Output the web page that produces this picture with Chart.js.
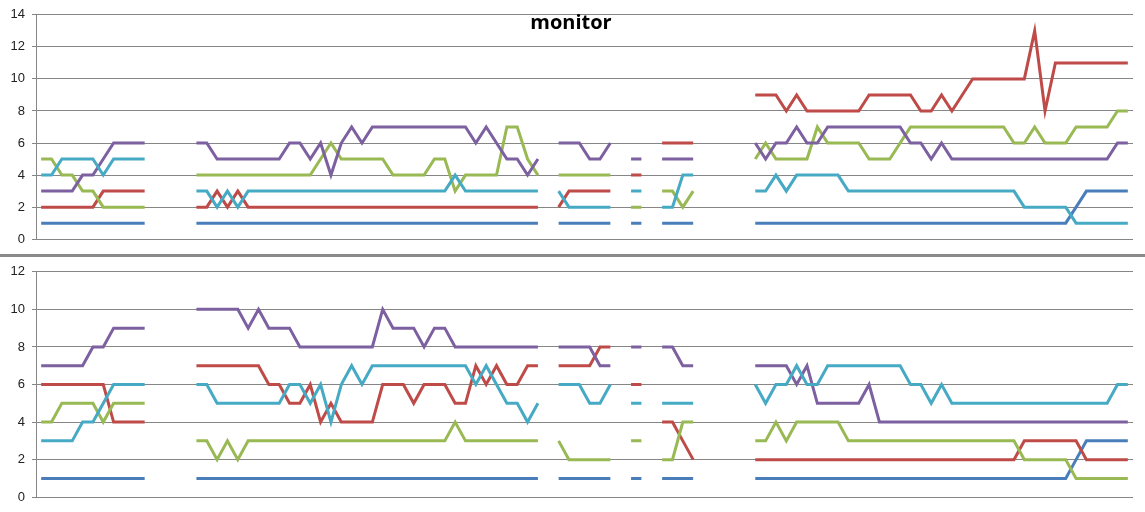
<!DOCTYPE html>
<html>
<head>
<meta charset="utf-8">
<title>monitor</title>
<script src="https://cdn.jsdelivr.net/npm/chart.js@4.4.0/dist/chart.umd.min.js"></script>
<style>
  html, body { margin: 0; padding: 0; background: #fff; }
  #wrap { position: relative; width: 1145px; height: 512px; overflow: hidden; }
  .panel { position: absolute; left: 0; width: 1145px; }
  #top-panel { top: 0; height: 254px; }
  #bottom-panel { top: 257px; height: 255px; }
  #divider { position: absolute; left: 0; top: 254px; width: 1145px; height: 3px; background: #8a8a8a; }
  #title { position: absolute; top: 10px; left: 0; width: 1142px; text-align: center;
           font: bold 20px "Open Sans"; line-height: 24px; color: #000; }
</style>
</head>
<body>
<div id="wrap">
  <div class="panel" id="top-panel"><canvas id="top-chart"></canvas></div>
  <div id="divider"></div>
  <div class="panel" id="bottom-panel"><canvas id="bottom-chart"></canvas></div>
  <div id="title">monitor</div>
</div>
<script>
// 106 categories, series have gaps between these runs
const N = 106;
const segStarts = [0, 15, 50, 57, 60, 69];

// Top panel (0..14)
const topBlue = [
  [1,1,1,1,1,1,1,1,1,1,1],
  [1,1,1,1,1,1,1,1,1,1, 1,1,1,1,1,1,1,1,1,1, 1,1,1,1,1,1,1,1,1,1, 1,1,1,1],
  [1,1,1,1,1,1],
  [1,1],
  [1,1,1,1],
  [1,1,1,1,1,1,1,1,1,1, 1,1,1,1,1,1,1,1,1,1, 1,1,1,1,1,1,1,1,1,1, 1, 2, 3,3,3,3,3]
];
const topRed = [
  [2,2,2,2,2,2,3,3,3,3,3],
  [2,2,3,2,3, 2,2,2,2,2,2,2,2,2,2, 2,2,2,2,2,2,2,2,2,2, 2,2,2,2,2,2,2,2,2],
  [2,3,3,3,3,3],
  [4,4],
  [6,6,6,6],
  [9,9,9,8,9, 8,8,8,8,8,8, 9,9,9,9,9, 8,8,9,8,9, 10,10,10,10,10,10, 13,8, 11,11,11,11,11,11,11,11]
];
const topGreen = [
  [5,5,4,4,3,3,2,2,2,2,2],
  [4,4,4,4,4,4,4,4,4,4,4,4, 5,6,5,5,5,5,5, 4,4,4,4, 5,5,3, 4,4,4,4, 7,7,5,4],
  [4,4,4,4,4,4],
  [2,2],
  [3,3,2,3],
  [5,6,5,5,5,5, 7,6,6,6,6, 5,5,5,6, 7,7,7,7,7,7,7,7,7,7, 6,6,7,6,6,6, 7,7,7,7,8,8]
];
const topPurple = [
  [3,3,3,3,4,4,5,6,6,6,6],
  [6,6,5,5,5,5,5,5,5, 6,6,5,6,4,6,7,6, 7,7,7,7,7,7,7,7,7,7, 6,7,6,5,5,4,5],
  [6,6,6,5,5,6],
  [5,5],
  [5,5,5,5],
  [6,5,6,6,7,6,6, 7,7,7,7,7,7,7,7, 6,6,5,6, 5,5,5,5,5,5,5,5,5,5,5,5,5,5,5,5, 6,6]
];
const topCyan = [
  [4,4,5,5,5,5,4,5,5,5,5],
  [3,3,2,3,2, 3,3,3,3,3,3,3,3,3,3, 3,3,3,3,3,3,3,3,3,3, 4, 3,3,3,3,3,3,3,3],
  [3,2,2,2,2,2],
  [3,3],
  [2,2,4,4],
  [3,3,4,3,4,4,4,4,4, 3,3,3,3,3,3,3,3,3,3,3,3,3,3,3,3,3, 2,2,2,2,2, 1,1,1,1,1,1]
];

// Bottom panel (0..12)
const botBlue = [
  [1,1,1,1,1,1,1,1,1,1,1],
  [1,1,1,1,1,1,1,1,1,1, 1,1,1,1,1,1,1,1,1,1, 1,1,1,1,1,1,1,1,1,1, 1,1,1,1],
  [1,1,1,1,1,1],
  [1,1],
  [1,1,1,1],
  [1,1,1,1,1,1,1,1,1,1, 1,1,1,1,1,1,1,1,1,1, 1,1,1,1,1,1,1,1,1,1, 1, 2, 3,3,3,3,3]
];
const botRed = [
  [6,6,6,6,6,6,6,4,4,4,4],
  [7,7,7,7,7,7,7, 6,6,5,5,6,4,5,4,4,4,4, 6,6,6,5,6,6,6,5,5, 7,6,7,6,6,7,7],
  [7,7,7,7,8,8],
  [6,6],
  [4,4,3,2],
  [2,2,2,2,2,2,2,2,2,2, 2,2,2,2,2,2,2,2,2,2, 2,2,2,2,2,2, 3,3,3,3,3,3, 2,2,2,2,2]
];
const botGreen = [
  [4,4,5,5,5,5,4,5,5,5,5],
  [3,3,2,3,2, 3,3,3,3,3,3,3,3,3,3, 3,3,3,3,3,3,3,3,3,3, 4, 3,3,3,3,3,3,3,3],
  [3,2,2,2,2,2],
  [3,3],
  [2,2,4,4],
  [3,3,4,3,4,4,4,4,4, 3,3,3,3,3,3,3,3,3,3,3,3,3,3,3,3,3, 2,2,2,2,2, 1,1,1,1,1,1]
];
const botPurple = [
  [7,7,7,7,7,8,8,9,9,9,9],
  [10,10,10,10,10,9,10,9,9,9, 8,8,8,8,8,8,8,8, 10,9,9,9,8,9,9, 8,8,8,8,8,8,8,8,8],
  [8,8,8,8,7,7],
  [8,8],
  [8,8,7,7],
  [7,7,7,7,6,7, 5,5,5,5,5, 6, 4,4,4,4,4,4,4,4,4,4,4,4,4,4,4,4,4,4,4,4,4,4,4,4,4]
];
const botCyan = [
  [3,3,3,3,4,4,5,6,6,6,6],
  [6,6,5,5,5,5,5,5,5, 6,6,5,6,4,6,7,6, 7,7,7,7,7,7,7,7,7,7, 6,7,6,5,5,4,5],
  [6,6,6,5,5,6],
  [5,5],
  [5,5,5,5],
  [6,5,6,6,7,6,6, 7,7,7,7,7,7,7,7, 6,6,5,6, 5,5,5,5,5,5,5,5,5,5,5,5,5,5,5,5, 6,6]
];

const colors = ['#4a7ebb', '#be4b48', '#98b954', '#7d60a0', '#46aac5'];
const labels = Array.from({ length: N }, (_, i) => String(i + 1));

// spread the runs over the 106 categories, null elsewhere
function expand(segs) {
  const out = new Array(N).fill(null);
  segs.forEach((seg, k) => seg.forEach((v, j) => { out[segStarts[k] + j] = v; }));
  return out;
}

function makeChart(id, series, yMax, pad) {
  const datasets = series.map((s, k) => ({
    data: expand(s),
    borderColor: colors[k],
    backgroundColor: colors[k],
    borderWidth: 3,
    pointRadius: 0,
    tension: 0,
    spanGaps: false,
    order: series.length - k
  }));

  return new Chart(document.getElementById(id), {
    type: 'line',
    data: { labels, datasets },
    options: {
      responsive: true,
      maintainAspectRatio: false,
      animation: false,
      layout: { padding: pad },
      plugins: { legend: { display: false }, tooltip: { enabled: false }, title: { display: false } },
      scales: {
        x: { display: false, offset: true },
        y: {
          min: 0,
          max: yMax,
          afterFit: scale => { scale.width = 36; },
          ticks: { stepSize: 2, padding: 7, color: '#222', font: { family: 'Liberation Sans', size: 13 } },
          grid: { color: '#868686', lineWidth: 1, tickLength: 4 },
          border: { display: true, color: '#868686' }
        }
      }
    }
  });
}

makeChart('top-chart', [topBlue, topRed, topGreen, topPurple, topCyan], 14,
  { top: 11, bottom: 13, left: 0, right: 12 });
makeChart('bottom-chart', [botBlue, botRed, botGreen, botPurple, botCyan], 12,
  { top: 14, bottom: 11, left: 0, right: 12 });
</script>
</body>
</html>
